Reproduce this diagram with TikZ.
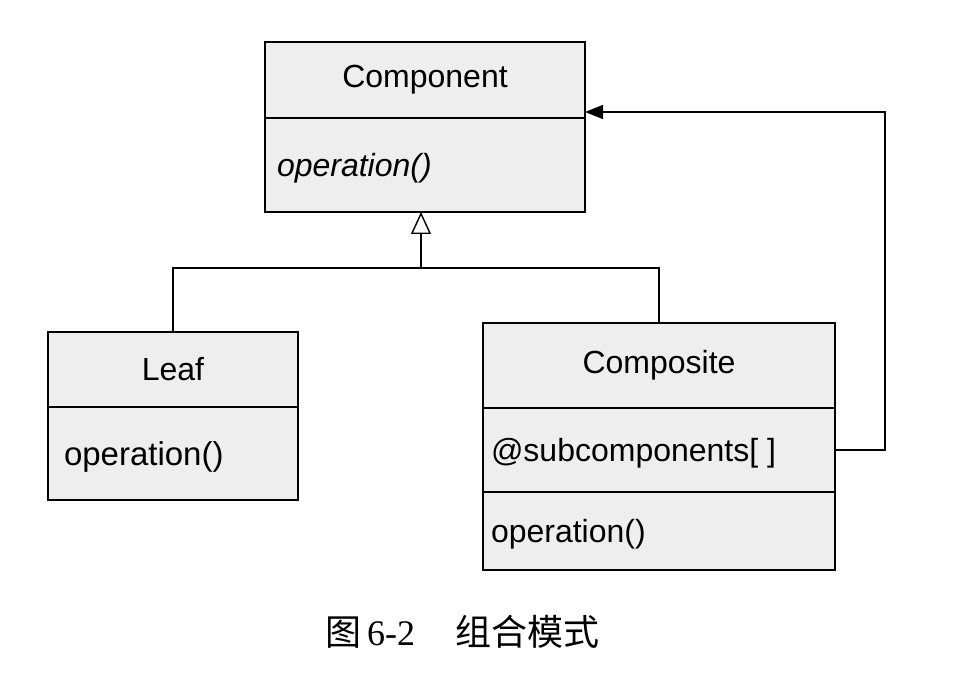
\documentclass[tikz,border=0pt]{standalone}
\usepackage{fontspec}
\setsansfont{Liberation Sans}
\setmainfont{Liberation Serif}
\newfontfamily\cjk{Noto Sans CJK SC}
\usepackage{tikz}
\usetikzlibrary{arrows.meta, positioning}
\definecolor{boxgray}{RGB}{238,238,238}

\begin{document}
\begin{tikzpicture}[
    x=0.5pt, y=-0.5pt,
    every node/.style={font=\sffamily\fontsize{16}{19}\selectfont},
    part/.style={draw, line width=1.1pt, fill=boxgray, inner sep=0pt, outer sep=0pt},
    namepart/.style={part, align=center},
    oppart/.style={part, align=left, text depth=0pt, inner xsep=6pt},
    link/.style={line width=0.7pt},
]
    \useasboundingbox (0,0) rectangle (960,694);

    % Component
    \node[namepart, minimum width=160pt, minimum height=38pt, anchor=north west] (comp-name) at (265,42) {Component};
    \node[oppart, minimum height=47pt, text width=148pt, below=0pt of comp-name] (comp-ops) {\itshape operation()};

    % Leaf
    \node[namepart, minimum width=125pt, minimum height=37.5pt, anchor=north west] (leaf-name) at (48,332) {Leaf};
    \node[oppart, minimum height=46.5pt, text width=109pt, inner xsep=8pt, below=0pt of leaf-name] (leaf-ops) {\fontsize{16.5}{19}\selectfont operation()};

    % Composite
    \node[namepart, minimum width=176pt, minimum height=42.5pt, anchor=north west] (compo-name) at (483,323) {Composite};
    \node[oppart, minimum height=42pt, text width=168pt, inner xsep=4pt, below=0pt of compo-name] (compo-attr) {@subcomponents[\;]};
    \node[oppart, minimum height=39pt, text width=168pt, inner xsep=4pt, below=0pt of compo-attr] (compo-ops) {operation()};

    % Inheritance
    \coordinate (join) at (421,268);
    \draw[link, -{Triangle[open, length=11pt, width=10pt]}] (join) -- (join |- comp-ops.south);
    \draw[link] (leaf-name.north) |- (join) -| (compo-name.north);

    % Aggregation loop
    \coordinate (loop) at (885,112);
    \draw[link, -{Triangle[length=9pt, width=7pt]}] (compo-attr.east) -| (loop) -- (loop -| comp-name.east);

    % Caption
    \node[font=\fontsize{18}{21}\selectfont, anchor=west] (caption) at (318,632) {{\cjk 图}\,6-2\hspace{20pt}{\cjk 组合模式}};
\end{tikzpicture}
\end{document}
